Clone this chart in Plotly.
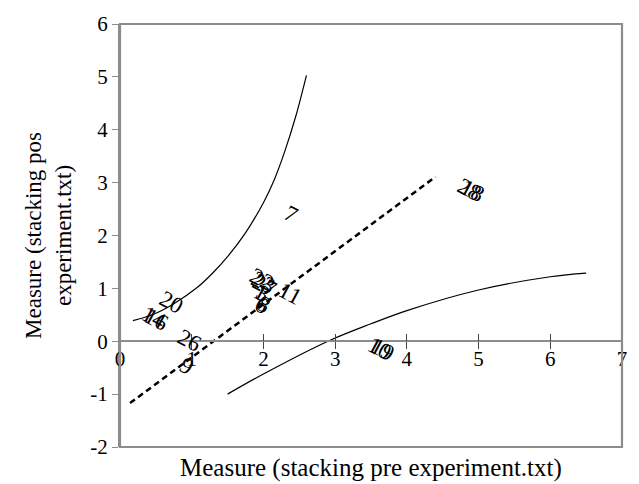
import plotly.graph_objects as go

# --- data ---
label_names = ["7", "28", "18", "10", "19", "20", "14", "16", "26", "9",
               "23", "27", "22", "1", "3", "6", "8", "11"]
label_x = [2.39, 4.87, 4.91, 3.62, 3.66, 0.72, 0.47, 0.51, 0.97, 0.94,
           2.00, 2.02, 1.98, 1.96, 1.99, 1.98, 2.01, 2.37]
label_y = [2.40, 2.87, 2.85, -0.14, -0.16, 0.74, 0.44, 0.42, 0.02, -0.47,
           1.12, 1.06, 1.16, 0.93, 0.90, 0.68, 0.70, 0.90]

upper_x = [0.18, 0.45, 0.74, 1.08, 1.3, 1.5, 1.75, 2.0, 2.15, 2.3, 2.45, 2.6]
upper_y = [0.39, 0.50, 0.70, 1.02, 1.3, 1.6, 2.05, 2.62, 3.05, 3.6, 4.25, 5.03]

lower_x = [1.5, 2.0, 2.9, 3.5, 4.0, 5.0, 6.0, 6.5]
lower_y = [-1.0, -0.62, 0.0, 0.33, 0.58, 0.97, 1.22, 1.29]

fit_x = [0.14, 4.4]
fit_y = [-1.17, 3.11]

x_ticks = [0, 1, 2, 3, 4, 5, 6, 7]
y_ticks = [-2, -1, 0, 1, 2, 3, 4, 5, 6]
y_ticktext = ["-2", "-1", "0", "1", "2", "3", "4", "5", "6"]

FONT = "Liberation Serif"

fig = go.Figure()
fig.add_trace(go.Scatter(x=upper_x, y=upper_y, mode="lines",
                         line=dict(color="black", width=1.2, shape="spline"),
                         showlegend=False, hoverinfo="skip"))
fig.add_trace(go.Scatter(x=lower_x, y=lower_y, mode="lines",
                         line=dict(color="black", width=1.2, shape="spline"),
                         showlegend=False, hoverinfo="skip"))
fig.add_trace(go.Scatter(x=fit_x, y=fit_y, mode="lines",
                         line=dict(color="black", width=2.5, dash="6px,4px"),
                         showlegend=False, hoverinfo="skip"))
# dummy trace for the overlay axis (inside half of cross ticks)
fig.add_trace(go.Scatter(x=[0], y=[0], xaxis="x2", mode="markers",
                         marker=dict(opacity=0), showlegend=False, hoverinfo="skip"))

for t, x, y in zip(label_names, label_x, label_y):
    fig.add_annotation(x=x, y=y, text=t, showarrow=False, textangle=28,
                       font=dict(family=FONT, size=23, color="black"))

fig.add_annotation(x=0.5, y=-0.05, xref="paper", yref="paper",
                   text="Measure (stacking pre experiment.txt)", showarrow=False,
                   yanchor="middle", font=dict(family=FONT, size=25, color="black"))

fig.add_shape(type="rect", xref="paper", yref="paper", x0=0, x1=1, y0=0, y1=1,
              line=dict(color="#8c8c8c", width=2.2), layer="above")

fig.update_layout(
    width=639, height=484,
    margin=dict(l=120, r=15, t=20, b=37),
    plot_bgcolor="white", paper_bgcolor="white",
    font=dict(family=FONT, size=21, color="black"),
    xaxis=dict(range=[0, 7], tickvals=x_ticks, anchor="free", position=0.25,
               showline=True, linecolor="#8c8c8c", linewidth=1.5,
               ticks="outside", ticklen=7, tickcolor="#444", tickwidth=1,
               ticklabelstandoff=-8,
               showgrid=False, zeroline=False,
               tickfont=dict(family=FONT, size=21)),
    xaxis2=dict(range=[0, 7], tickvals=x_ticks, overlaying="x", anchor="free",
                position=0.25, ticks="inside", ticklen=7, tickcolor="#444",
                tickwidth=1, showticklabels=False, showgrid=False,
                zeroline=False, showline=False),
    yaxis=dict(range=[-2, 6], tickvals=y_ticks, ticktext=y_ticktext,
               showline=True, linecolor="#8c8c8c", linewidth=2.2,
               ticks="outside", ticklen=6, tickcolor="#8c8c8c",
               showgrid=False, zeroline=False,
               tickfont=dict(family=FONT, size=21),
               title=dict(text="Measure (stacking pos<br>experiment.txt)",
                          font=dict(family=FONT, size=23), standoff=12)),
)

fig.write_html("out.html")
